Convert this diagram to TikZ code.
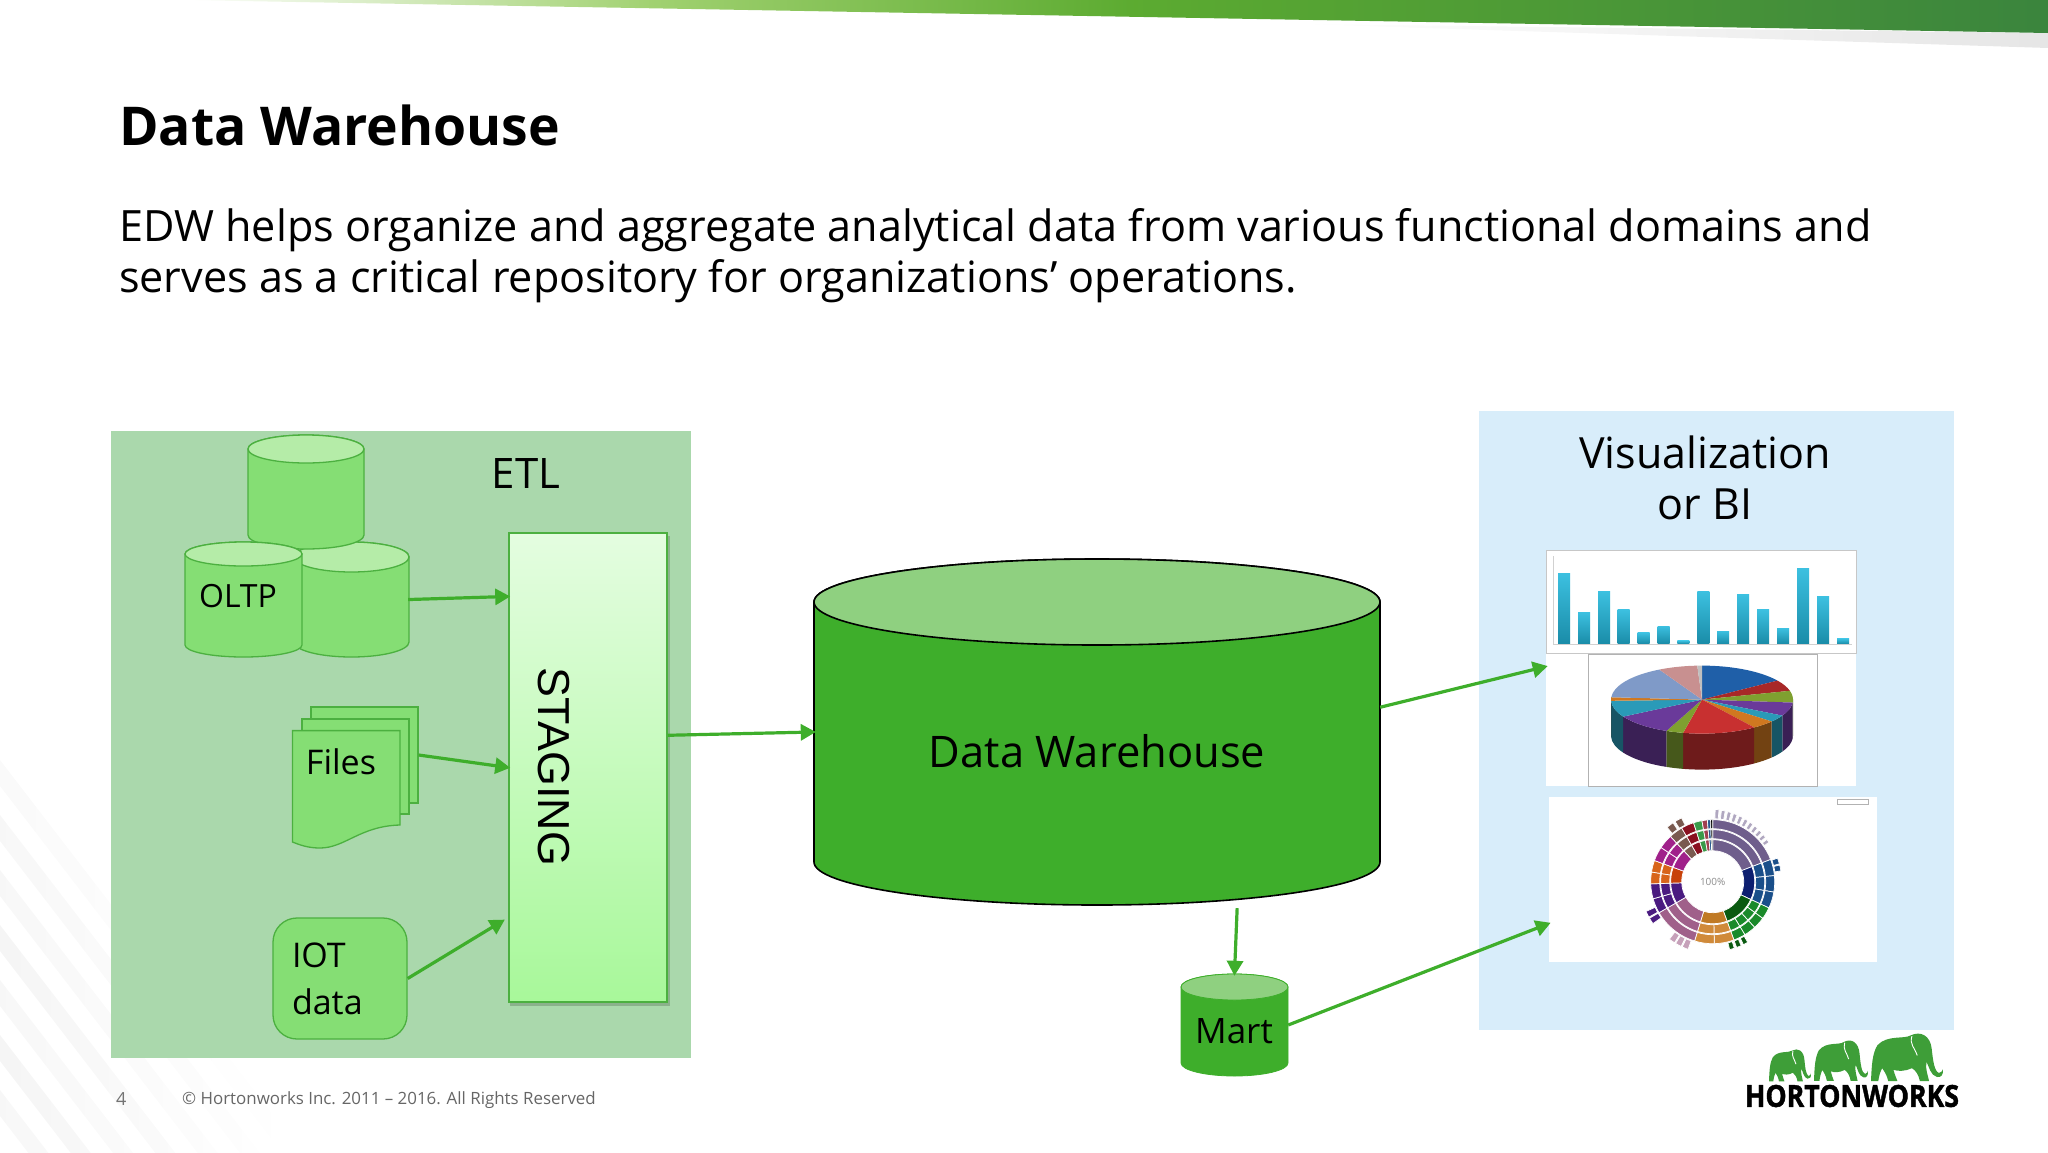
\documentclass[tikz,border=0pt]{standalone}
\usepackage{fontspec}
\usepackage{graphicx}
\setmainfont{Open Sans}
\usetikzlibrary{arrows.meta,calc,shadings}
\definecolor{etlpanel}{HTML}{AAD8AC}
\definecolor{vizpanel}{HTML}{D8EDFA}
\definecolor{lightgreen}{HTML}{85DE74}
\definecolor{lighttop}{HTML}{B5ECA8}
\definecolor{edgegreen}{HTML}{4CB040}
\definecolor{dwgreen}{HTML}{3EAE2B}
\definecolor{dwtop}{HTML}{8FD080}
\definecolor{flowgreen}{HTML}{3EAE2B}
\definecolor{stagingTop}{HTML}{E4FDE0}
\definecolor{stagingBot}{HTML}{A8F89A}
\definecolor{pbarTop}{HTML}{3CC0E0}
\definecolor{pbarBot}{HTML}{1A8CA8}
\definecolor{pBlue}{HTML}{1F5FA8}\definecolor{pRedA}{HTML}{A82828}\definecolor{pGreen}{HTML}{7FA030}
\definecolor{pPurple}{HTML}{6A3A9A}\definecolor{pTeal}{HTML}{2A9AB8}\definecolor{pOrange}{HTML}{D07820}
\definecolor{pRedB}{HTML}{C83030}\definecolor{pPeri}{HTML}{7F9AC8}\definecolor{pPink}{HTML}{C89090}
\definecolor{sMauve}{HTML}{6F5E8C}\definecolor{sNavy}{HTML}{0D1F70}\definecolor{sBlue}{HTML}{1A4F8A}
\definecolor{sDkGreen}{HTML}{0A5A10}\definecolor{sGreen}{HTML}{1A8A2A}\definecolor{sBrown}{HTML}{C07A25}
\definecolor{sBrownB}{HTML}{D08A3A}\definecolor{sRose}{HTML}{A0608A}\definecolor{sPurple}{HTML}{4A1A80}
\definecolor{sRust}{HTML}{C8420A}\definecolor{sRustB}{HTML}{D8641A}\definecolor{sMag}{HTML}{A0208A}
\definecolor{sTaupe}{HTML}{7A5A50}\definecolor{sDkRed}{HTML}{8A1020}\definecolor{sLeaf}{HTML}{3A9A4A}
\definecolor{sRosy}{HTML}{A04050}\definecolor{sSteel}{HTML}{2A5A90}
\definecolor{elephant}{HTML}{3E9E38}
\pgfdeclarehorizontalshading{banner}{100bp}{rgb(0bp)=(1,1,1); rgb(25bp)=(1,1,1); rgb(37.6bp)=(.63,.82,.44); rgb(50.5bp)=(.36,.67,.19); rgb(75bp)=(.23,.52,.24); rgb(100bp)=(.23,.52,.24)}
\tikzset{
  flow/.style={draw=flowgreen,line width=3.2pt,-{Triangle[length=15pt,width=16pt]},shorten >=-2pt},
  panel/.style={inner sep=0pt,draw=none},
  lab/.style={inner sep=0pt,font=\fontsize{#1}{#1}\selectfont,text=black},
  sheet/.style={draw=edgegreen,line width=1.3pt,fill=lightgreen,inner sep=0pt},
  image/.style={fill=white,draw=none,inner sep=0pt}
}
\newcommand\dbcyl[9]{%
  \pgfmathsetmacro\crx{(#3-#2)/2}%
  \pgfmathsetmacro\ccx{(#3+#2)/2}%
  \pgfmathsetmacro\ccy{(#4+#5)/2}%
  \draw[draw=#9,fill=#7,dbline] (#2,#4+#6) -- (#2,#5-#6) arc[start angle=180,end angle=360,x radius=\crx pt,y radius=#6pt] -- (#3,#4+#6) arc[start angle=0,end angle=180,x radius=\crx pt,y radius=#6pt] -- cycle;
  \draw[draw=#9,fill=#8,dbline] (\ccx,#4+#6) ellipse [x radius=\crx pt,y radius=#6pt];
  \node[inner sep=0pt,minimum width=#3pt-#2pt,minimum height=#5pt-#4pt] (#1) at (\ccx,\ccy) {};
}
\newcommand\annul[5]{\fill[#5,draw=white,line width=.7pt] ($(sun)+(#1:#3pt)$) arc[start angle=#1,end angle=#2,radius=#3pt] -- ($(sun)+(#2:#4pt)$) arc[start angle=#2,end angle=#1,radius=#4pt] -- cycle;}
\newcommand\elephantshape[4]{%
  \begin{scope}[shift={(#1,#2)},xscale=#3,yscale=#4]
    \fill[elephant] (0,60) .. controls (1,40) and (2,25) .. (10,15) .. controls (25,2) and (50,8) .. (60,3) .. controls (75,-3) and (90,3) .. (92,20) .. controls (94,35) and (96,48) .. (103,50) .. controls (108,50) and (108,46) .. (109,45) .. controls (110,52) and (106,56) .. (100,55) .. controls (90,53) and (88,42) .. (84,36) .. controls (82,45) and (86,52) .. (88,60) -- (74,60) .. controls (72,52) and (68,47) .. (62,44) .. controls (52,48) and (40,48) .. (34,46) .. controls (36,52) and (38,56) .. (40,60) -- (26,60) .. controls (24,52) and (20,48) .. (17,44) .. controls (14,48) and (12,54) .. (11,60) -- cycle;
    \draw[white,line width=.9pt] (62,4) .. controls (58,14) and (66,18) .. (70,28);
  \end{scope}}
\begin{document}
\begin{tikzpicture}[x=1pt,y=-1pt,dbline/.style={line width=1.3pt}]
\useasboundingbox (0,0) rectangle (2048,1152);
% background streaks
\foreach \yy/\cc in {760/2,815/3,870/3,925/4,980/3,1035/4,1090/3}{
  \shade[left color=black!\cc,right color=white] (0,\yy) -- (0,\yy+26) -- (300,\yy+26+390) -- (300,\yy+390) -- cycle;
}
% top banner
\shade[left color=white,right color=black!10] (1300,24) -- (2048,33) -- (2048,48) -- cycle;
\shade[shading=banner] (183,0) -- (2048,0) -- (2048,33) -- cycle;
% title
\node[anchor=west,inner sep=0pt,font=\fontsize{53.5}{53.5}\selectfont\bfseries] (title) at (119,125) {Data Warehouse};
\node[anchor=north west,inner sep=0pt,align=left,font=\fontsize{43.15}{51}\selectfont] (intro) at (119,208) {EDW helps organize and aggregate analytical data from various functional domains and\\serves as a critical repository for organizations’ operations.};
% panels
\node[panel,fill=etlpanel,minimum width=580pt,minimum height=627pt] (etl) at (401,744.5) {};
\node[panel,fill=vizpanel,minimum width=475pt,minimum height=619pt] (viz) at (1716.5,720.5) {};
\node[lab=42] (etllabel) at (526,473) {ETL};
\node[inner sep=0pt,align=center,font=\fontsize{43}{51}\selectfont] (vizlabel) at (1705,478) {Visualization\\or BI};
% OLTP cylinders
\dbcyl{oltpC}{294}{409}{542}{657}{15}{lightgreen}{lighttop}{edgegreen}
\dbcyl{oltpB}{248}{364}{435}{549}{14}{lightgreen}{lighttop}{edgegreen}
\dbcyl{oltpA}{185}{302}{542}{657}{12}{lightgreen}{lighttop}{edgegreen}
\node[lab=32] (oltplabel) at (238,596) {OLTP};
% Files
\node[sheet,minimum width=107pt,minimum height=96pt] (filesBack) at (364.5,755) {};
\node[sheet,minimum width=107pt,minimum height=95pt] (filesMid) at (355.5,766.5) {};
\draw[sheet] (292.5,730.6) -- (400,730.6) -- (400,825) .. controls (360,826) and (345,848) .. (320,848) .. controls (308,848) and (300,845) .. (292.5,842) -- cycle;
\node[inner sep=0pt,minimum width=107.5pt,minimum height=118pt] (filesFront) at (346.2,789.5) {};
\node[lab=34] (fileslabel) at (341,762) {Files};
% IOT
\node[draw=edgegreen,line width=1.3pt,fill=lightgreen,rounded corners=24pt,minimum width=134pt,minimum height=121pt,inner sep=0pt,text width=96pt,align=left,font=\fontsize{34}{47}\selectfont] (iot) at (340,978.5) {IOT\\data};
% Staging
\fill[black,opacity=.18] (510,536) rectangle (670,1006);
\node[draw=edgegreen,line width=1.5pt,top color=stagingTop,bottom color=stagingBot,minimum width=158pt,minimum height=469pt,inner sep=0pt] (staging) at (588,767.5) {};
\node[inner sep=0pt,rotate=-90,font=\fontsize{44.8}{44.8}\selectfont\fontspec{Liberation Sans}] (staginglabel) at (554,767) {STAGING};
% Data warehouse
\tikzset{dbline/.style={line width=1.6pt}}
\dbcyl{dw}{814}{1380}{559}{905}{43}{dwgreen}{dwtop}{black}
\node[lab=43.5] (dwlabel) at (1097,751) {Data Warehouse};
% Mart
\tikzset{dbline/.style={line width=.8pt}}
\dbcyl{mart}{1181}{1288}{974}{1076}{13}{dwgreen}{dwtop}{dwgreen}
\node[lab=35] (martlabel) at (1234,1031) {Mart};
% Bar chart image
\node[image,draw=black!22,line width=1pt,minimum width=310pt,minimum height=103pt] (bars) at (1701,601.5) {};
\draw[black!18,line width=.6pt] (1553,556) -- (1553,644) -- (1852,644);
\foreach \X/\Y in {312/452,372/555,432/500,491/548,551/608,611/590,670/628,730/500,789/603,849/508,909/548,969/596,1029/440,1089/514,1149/623}{
  \pgfmathsetmacro\bx{1460+\X/3}
  \pgfmathsetmacro\by{400+\Y/2.61}
  \shade[top color=pbarTop,bottom color=pbarBot] (\bx-6,\by) rectangle (\bx+6,643.7);
}
% Pie image
\node[image,minimum width=310pt,minimum height=132pt] (pie) at (1701,720) {};
\draw[black!30,line width=.8pt] (1588,654) rectangle (1817,786);
\coordinate (pc) at (1702,699.6);
\foreach \a/\b/\c in {0/-5/pGreen,-5/-28/pPurple,-28/-40/pTeal,-40/-55/pOrange,-55/-102/pRedB,-102/-113/pGreen,-113/-150/pPurple,-150/-178/pTeal,-178/-180/pOrange}{
  \fill[\c!55!black] ($(pc)+(\a:91pt and 34pt)$) arc[start angle=\a,end angle=\b,x radius=91pt,y radius=34pt] -- ++(0,36) arc[start angle=\b,end angle=\a,x radius=91pt,y radius=34pt] -- cycle;
}
\foreach \a/\b/\c in {90/34/pBlue,34/15/pRedA,15/-5/pGreen,-5/-28/pPurple,-28/-40/pTeal,-40/-55/pOrange,-55/-102/pRedB,-102/-113/pGreen,-113/-150/pPurple,-150/-178/pTeal,-178/-184/pOrange,-184/-242/pPeri,-242/-267/pPink,-267/-270/black!25}{
  \fill[\c] (pc) -- ($(pc)+(\a:91pt and 34pt)$) arc[start angle=\a,end angle=\b,x radius=91pt,y radius=34pt] -- cycle;
}
% Sunburst image
\node[image,minimum width=328pt,minimum height=165pt] (sunimg) at (1713,879.5) {};
\coordinate (sun) at (1712.7,881.7);
\foreach \a/\b/\ca/\cb/\n in {90/21/sMauve/sMauve/1,21/-25/sNavy/sBlue/3,-25/-70/sDkGreen/sGreen/4,-70/-107/sBrown/sBrownB/2,-107/-150/sRose/sRose/1,-150/-178/sPurple/sPurple/2,-178/-200/sRust/sRustB/2,-200/-227/sMag/sMag/2,-227/-240/sTaupe/sTaupe/1,-240/-252/sDkRed/sDkRed/1,-252/-260/sLeaf/sLeaf/1,-260/-265/sRosy/sRosy/1,-265/-268/sSteel/sSteel/1,-268/-270/black/black/1}{
  \annul{\a}{\b}{31}{42}{\ca}
  \foreach \k in {1,...,\n}{
    \pgfmathsetmacro\sa{\a+(\b-\a)*(\k-1)/\n}
    \pgfmathsetmacro\sb{\a+(\b-\a)*\k/\n}
    \annul{\sa}{\sb}{43}{52}{\cb}
    \annul{\sa}{\sb}{53}{62}{\cb}
  }
}
\foreach \a in {88,83,78,73,68,63,58,53,48,43,38}{\pgfmathsetmacro\ee{\a-3}\pgfmathsetmacro\oo{66+\a/14}\annul{\a}{\ee}{63}{\oo}{sMauve!55}}
\foreach \a in {20,14}{\pgfmathsetmacro\ee{\a-5}\annul{\a}{\ee}{63}{69}{sBlue}}
\foreach \a in {-145,-151}{\pgfmathsetmacro\ee{\a-5}\annul{\a}{\ee}{63}{73}{sPurple}}
\foreach \a in {-110,-116,-122}{\pgfmathsetmacro\ee{\a-5}\annul{\a}{\ee}{63}{72}{sRose!60}}
\foreach \a in {-230,-238}{\pgfmathsetmacro\ee{\a-6}\annul{\a}{\ee}{63}{71}{sTaupe}}
\foreach \a in {-60,-66,-72}{\pgfmathsetmacro\ee{\a-4}\annul{\a}{\ee}{63}{70}{sDkGreen}}
\node[inner sep=0pt,text=black!45,font=\fontsize{10}{10}\selectfont] (pct) at (1712.7,881.7) {100\%};
\draw[black!30,line width=.5pt,fill=white] (1837,799) rectangle (1868,804);
% connectors
\draw[flow,shorten <=-1pt] (oltpC.east) -- (staging.115.4);
\draw[flow] (filesBack.east) -- (staging.west);
\draw[flow,shorten >=4pt] (iot.east) -- (staging.242.3);
\draw[flow] (staging.22.4) -- (dw.west);
\draw[flow,shorten <=3pt] (dw.-51) -- (mart.north);
\draw[flow] (dw.5) -- (pie.161.8);
\draw[flow] (mart.east) -- (sunimg.195.5);
% footer
\node[anchor=west,inner sep=0pt,text=black!55,font=\fontsize{18}{18}\selectfont] (pageno) at (116,1099) {4};
\node[anchor=west,inner sep=0pt,text=black!60,font=\fontsize{16.9}{16.9}\selectfont] (copy) at (182,1100) {© Hortonworks Inc. 2011 – 2016. All Rights Reserved};
% logo
\elephantshape{1769}{1049}{.385}{.54}
\elephantshape{1814}{1040}{.495}{.68}
\elephantshape{1871}{1033}{.66}{.8}
\node[inner sep=0pt,font=\bfseries\addfontfeatures{FakeBold=1.5}] (logo) at (1852,1096) {\resizebox{214pt}{22pt}{HORTONWORKS}};
\end{tikzpicture}
\end{document}
